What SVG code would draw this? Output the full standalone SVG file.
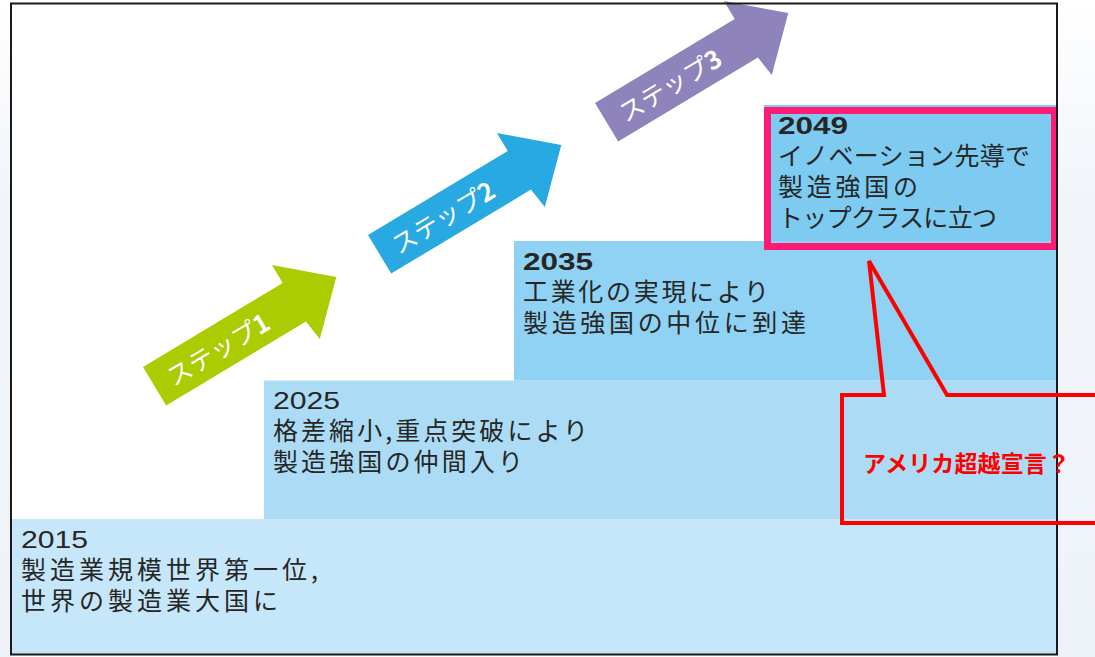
<svg xmlns="http://www.w3.org/2000/svg" width="1095" height="657" viewBox="0 0 1095 657">
<defs>
<style>
.t{font-family:"Noto Sans CJK JP","Noto Sans",sans-serif;fill:#262626;font-size:25px}
.y{font-family:"Liberation Sans","Noto Sans",sans-serif;fill:#262626;font-size:24px}
.yb{font-weight:bold}
.lbl{font-family:"Noto Sans CJK JP","Noto Sans",sans-serif;fill:#ffffff;font-size:25px}
.num{font-weight:bold}
.cl{font-family:"Noto Sans CJK JP",serif;fill:#ff0000;font-size:23px;font-weight:bold}
</style>
<polygon id="arrowShape" points="0,0 163,0 163,-21 212,22.5 166,67 163,45 0,45"/>
<linearGradient id="bgR" x1="0" y1="0" x2="0" y2="1">
<stop offset="0" stop-color="#ffffff"/>
<stop offset="0.3" stop-color="#f1f5fa"/>
<stop offset="1" stop-color="#eef3f9"/>
</linearGradient>
</defs>
<rect x="0" y="0" width="1095" height="657" fill="#ffffff"/>
<rect x="0" y="0" width="11" height="657" fill="url(#bgR)"/>
<rect x="1057" y="0" width="38" height="657" fill="url(#bgR)"/>
<rect x="11" y="3.5" width="1046" height="651" fill="#ffffff"/>

<g id="step2015">
<rect x="12" y="519" width="1045" height="136" fill="#c6e6f9"/>
<text class="y" x="21" y="548" textLength="67" lengthAdjust="spacingAndGlyphs">2015</text>
<text class="t" x="21" y="579" textLength="297">製造業規模世界第一位,</text>
<text class="t" x="21" y="610" textLength="257">世界の製造業大国に</text>
</g>
<g id="step2025">
<rect x="264" y="380.5" width="793" height="138.5" fill="#acdcf5"/>
<text class="y" x="273" y="409" textLength="67" lengthAdjust="spacingAndGlyphs">2025</text>
<text class="t" x="273" y="440" textLength="315">格差縮小,重点突破により</text>
<text class="t" x="273" y="471" textLength="250">製造強国の仲間入り</text>
</g>
<g id="step2035">
<rect x="514" y="241" width="543" height="139.5" fill="#8fd2f3"/>
<text class="y yb" x="523" y="270" textLength="70" lengthAdjust="spacingAndGlyphs">2035</text>
<text class="t" x="523" y="301" textLength="246">工業化の実現により</text>
<text class="t" x="523" y="332" textLength="283">製造強国の中位に到達</text>
</g>
<g id="step2049">
<rect x="764" y="105" width="293" height="136" fill="#7dcbf1"/>
<text class="y yb" x="778" y="134" textLength="70" lengthAdjust="spacingAndGlyphs">2049</text>
<text class="t" x="778" y="165" textLength="252">イノベーション先導で</text>
<text class="t" x="778" y="196" textLength="140">製造強国の</text>
<text class="t" x="778" y="227" textLength="219">トップクラスに立つ</text>
<rect x="767.5" y="110.5" width="287" height="136" fill="none" stroke="#ff1a75" stroke-width="7"/>
</g>

<g id="arrow1" transform="translate(143,367) rotate(-31)">
<use href="#arrowShape" fill="#abcb02"/>
<text class="lbl" x="16" y="33">ステップ<tspan class="num">1</tspan></text>
</g>
<g id="arrow2" transform="translate(368,235) rotate(-31)">
<use href="#arrowShape" fill="#29a9e1"/>
<text class="lbl" x="16" y="33">ステップ<tspan class="num">2</tspan></text>
</g>
<g id="arrow3" transform="translate(595,103) rotate(-31)">
<use href="#arrowShape" fill="#8f83bc"/>
<text class="lbl" x="16" y="33">ステップ<tspan class="num">3</tspan></text>
</g>

<rect x="11" y="3.5" width="1046" height="651" fill="none" stroke="#1a1a1a" stroke-width="2"/>

<g id="connectors">
<polygon points="842,395 884,395 869,261 947,395 1100,395 1100,523 842,523" fill="none" stroke="#ff0000" stroke-width="4"/>
</g>
<g id="callout">
<text class="cl" x="863" y="472" textLength="207">アメリカ超越宣言？</text>
</g>
</svg>
